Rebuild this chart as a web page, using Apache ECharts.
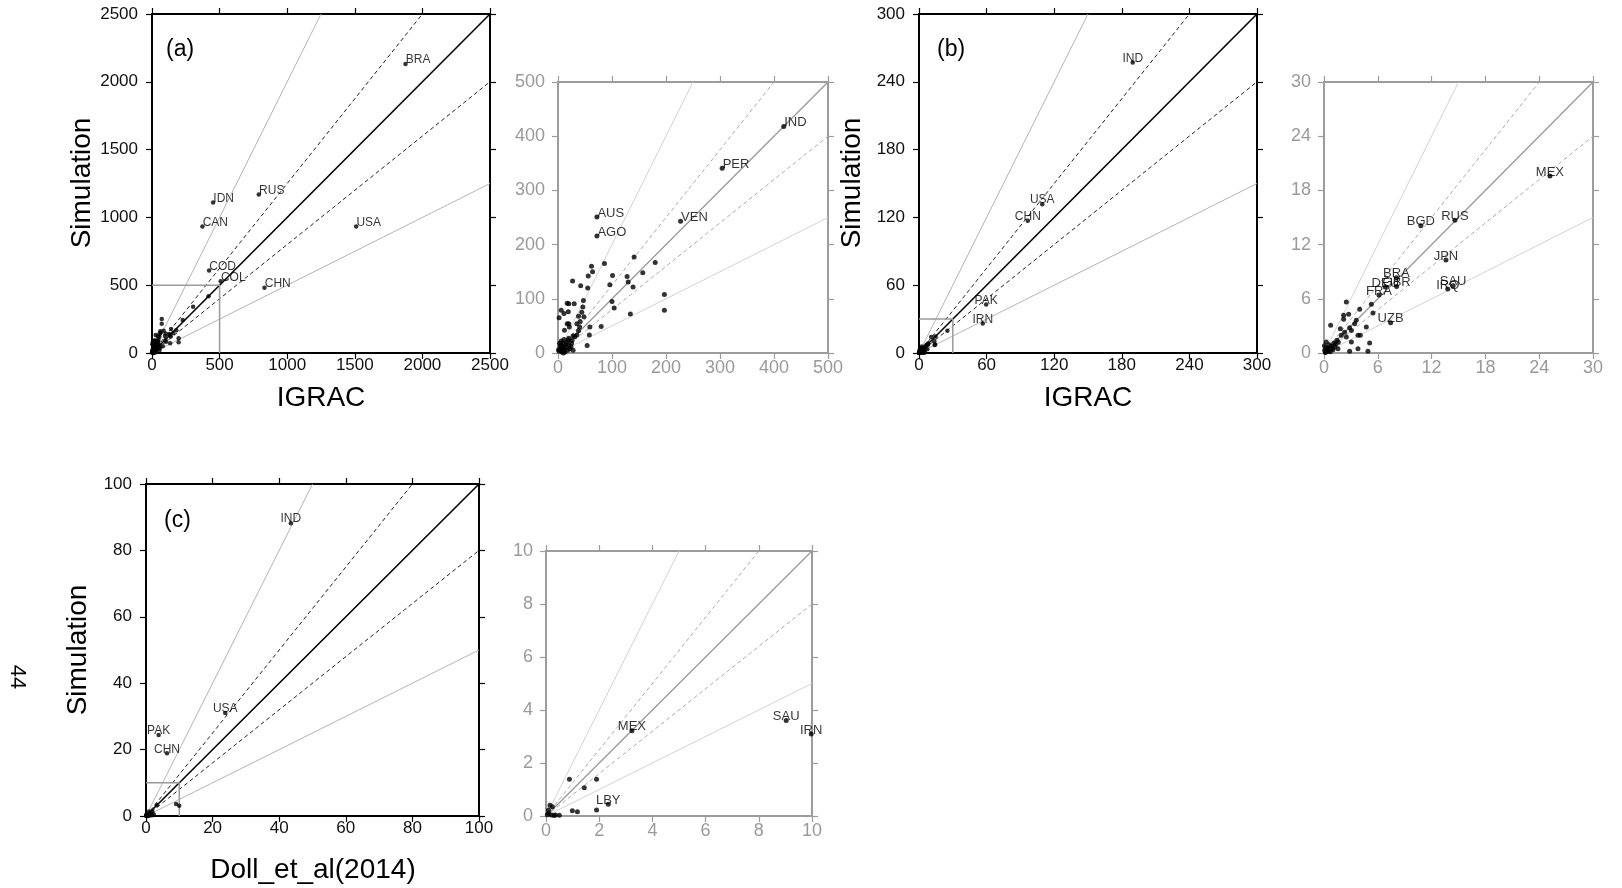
<!DOCTYPE html>
<html><head><meta charset="utf-8">
<script src="https://cdn.jsdelivr.net/npm/echarts@6/dist/echarts.min.js"></script>
<style>html,body{margin:0;padding:0;background:#fff}#c{width:1622px;height:888px}</style>
</head><body><div id="c"></div>
<script>
const FONT = '"Liberation Sans", Arial, Helvetica, sans-serif';
const refSlopes = [2, 1.25, 1, 0.8, 0.5];

// ---------- Panel (a): IGRAC vs Simulation ----------
const aMainLabeled = [
  ['BRA',1875,2131],['RUS',790,1169],['IDN',452,1110],['CAN',373,933],
  ['USA',1510,933],['COD',422,608],['COL',508,529],['CHN',832,482]
];
const aInsetLabeled = [
  ['IND',418,418],['PER',304,341],['VEN',227,243],['AUS',72,251],['AGO',72,216]
];
const aOther = [
  [141,177],[180,167],[86,165],[62,160],[64,150],[157,148],[56,142],[101,143],[128,141],
  [42,124],[55,120],[96,126],[130,131],[139,122],[27,133],[197,108],[100,95],[104,83],
  [197,79],[134,72],[80,49],[59,48],[58,33],[54,14],[47,97],[46,85],[44,75],[38,68],
  [48,67],[41,58],[35,54],[40,48],[17,92],[20,91],[30,91],[6,79],[11,73],[19,76],
  [20,54],[21,48],[17,54],[12,42],[2,65],[28,32],[31,30],[38,41],[35,33],[26,23],[20,27],
  [2,3],[5,8],[8,4],[10,12],[12,6],[15,15],[3,18],[6,22],[9,19],[14,10],[18,5],[20,14],
  [4,12],[7,2],[11,25],[16,20],[22,8],[25,18],[1,6],[13,2],[19,24],[24,12],[28,5],[6,15],[10,0]
];

// ---------- Panel (b) ----------
const bMainLabeled = [
  ['IND',189.7,257],['USA',109.4,131.7],['CHN',96.6,117],['PAK',59.6,43],['IRN',56.6,26]
];
const bInsetLabeled = [
  ['MEX',25.2,19.6],['RUS',14.6,14.7],['BGD',10.8,14.1],['JPN',13.6,10.3],
  ['SAU',14.4,7.45],['IRQ',13.8,7.08],['BRA',8.07,8.34],['GBR',8.1,7.35],
  ['DEU',6.84,7.3],['FRA',6.13,6.42],['UZB',7.43,3.36]
];
const bOther = [
  [2.49,5.65],[5.28,5.39],[3.98,4.83],[5.46,4.43],[2.19,4.17],[2.19,3.73],[2.75,4.28],
  [3.6,3.62],[3.42,3.25],[4.72,2.88],[2.86,2.8],[3.05,2.5],[0.74,3.06],[1.82,2.69],
  [2.3,2.3],[1.93,1.96],[2.49,1.77],[3.79,1.96],[4.05,1.96],[5.09,1.1],[1.45,1.4],
  [1.3,0.96],[3.05,1.22],[3.79,0.48],[4.9,0.2],[2.86,0.2],[0.26,1.22],[0.82,0.74],
  [0.45,0.48],[0.07,0.3],[1.0,0.37],[1.56,0.48],[0.2,0.1],[0.5,0.2],[0.3,0.6],[0.6,0.9],
  [0.9,0.5],[1.1,1.1],[0.15,0.05],[0.35,0.35],[0.7,0.15],[1.2,0.7],[0.05,0.8],[1.6,1.2]
];

// ---------- Panel (c): Doll_et_al(2014) ----------
const cMainLabeled = [
  ['IND',43.5,88.2],['USA',23.8,31],['PAK',3.8,24.4],['CHN',6.3,18.9]
];
const cInsetLabeled = [
  ['MEX',3.23,3.22],['SAU',9.03,3.6],['IRN',9.97,3.09],['LBY',2.34,0.44]
];
const cOther = [
  [0.88,1.39],[1.9,1.39],[1.44,1.07],[0.99,0.2],[1.18,0.16],[1.9,0.23],[0.15,0.41],
  [0.24,0.35],[0.09,0.23],[0.1,0.1],[0.05,0.05],[0.2,0.04],[0.35,0.04],[0.5,0.03],[0.3,0.02]
];

// axis ranges / tick steps
const aRange = [2500, 500], aInRange = [500, 100];
const bRange = [300, 60],   bInRange = [30, 6];
const cRange = [100, 20],   cInRange = [10, 2];

const panels = [
  {g:[152,14,338,339], r:aRange, inset:false, lab:aMainLabeled, plain:[aInsetLabeled, aOther], align:'left', box:aInRange[0], tag:'(a)', tagPos:[166,50]},
  {g:[558,82,270,271], r:aInRange, inset:true, lab:aInsetLabeled, plain:[aMainLabeled, aOther], align:'left'},
  {g:[919,14,338,339], r:bRange, inset:false, lab:bMainLabeled, plain:[bInsetLabeled, bOther], align:'center', box:bInRange[0], tag:'(b)', tagPos:[937,50]},
  {g:[1324,82,269,271], r:bInRange, inset:true, lab:bInsetLabeled, plain:[bMainLabeled, bOther], align:'center'},
  {g:[146,484,333,332], r:cRange, inset:false, lab:cMainLabeled, plain:[cInsetLabeled, cOther], align:'center', box:cInRange[0], tag:'(c)', tagPos:[164,521]},
  {g:[546,551,266,265], r:cInRange, inset:true, lab:cInsetLabeled, plain:[cMainLabeled, cOther], align:'center'}
];

const grid = [], xAxis = [], yAxis = [], series = [], graphic = [];

function refStyle(s, inset) {
  if (s === 1) return {color: inset ? '#999' : '#000', width: inset ? 1.3 : 1.6, type:'solid'};
  if (s === 2 || s === 0.5) return {color: inset ? '#d2d2d2' : '#b4b4b4', width: 1, type:'solid'};
  return {color: inset ? '#aaa' : '#222', width: 1, type:[4,3]};
}
const plainNum = v => String(v);

panels.forEach((p, i) => {
  grid.push({left:p.g[0], top:p.g[1], width:p.g[2], height:p.g[3]});
  const axCol = p.inset ? '#9c9c9c' : '#000';
  const lblCol = p.inset ? '#9a9a9a' : '#111';
  const fs = p.inset ? 18 : 17;
  const max = p.r[0], step = p.r[1];
  const base = () => ({gridIndex:i, type:'value', min:0, max:max, interval:step,
    splitLine:{show:false},
    axisLine:{show:true, onZero:false, lineStyle:{color:axCol, width:2}},
    axisTick:{show:true, inside:false, length:6, lineStyle:{color:axCol, width:1.2}}});
  xAxis.push(Object.assign(base(), {position:'bottom',
    axisLabel:{show:true, color:lblCol, fontSize:fs, fontFamily:FONT, margin:p.inset?6:4, formatter:plainNum}}));
  xAxis.push(Object.assign(base(), {position:'top', axisLabel:{show:false}}));
  yAxis.push(Object.assign(base(), {position:'left',
    axisLabel:{show:true, color:lblCol, fontSize:fs, fontFamily:FONT, margin:p.inset?13:14, formatter:plainNum}}));
  yAxis.push(Object.assign(base(), {position:'right', axisLabel:{show:false}}));
  const xi = 2*i, yi = 2*i;

  refSlopes.forEach(s => {
    const end = s >= 1 ? [max/s, max] : [max, max*s];
    series.push({type:'line', xAxisIndex:xi, yAxisIndex:yi, data:[[0,0], end],
      symbol:'none', lineStyle:refStyle(s, p.inset), silent:true, animation:false, z:1});
  });

  if (p.box) {
    series.push({type:'line', xAxisIndex:xi, yAxisIndex:yi,
      data:[[0,p.box],[p.box,p.box],[p.box,0]], symbol:'none',
      lineStyle:{color:'#9a9a9a', width:1.5}, silent:true, animation:false, z:1});
  }

  const symSize = p.inset ? 5 : 4.5;
  const plainPts = [];
  p.plain.forEach(arr => arr.forEach(d => plainPts.push(d.length === 3 ? [d[1], d[2]] : d)));
  series.push({type:'scatter', xAxisIndex:xi, yAxisIndex:yi, data:plainPts,
    symbolSize:symSize, itemStyle:{color:'#000'}, silent:true, animation:false, z:3});

  const lbl = p.align === 'left'
    ? {show:true, formatter:'{b}', position:'right', distance:0, offset:[-2,-4]}
    : {show:true, formatter:'{b}', position:'inside', offset:[0,-4]};
  Object.assign(lbl, {fontSize:p.inset ? 13 : 12, color:'#000', fontFamily:FONT});
  series.push({type:'scatter', xAxisIndex:xi, yAxisIndex:yi,
    data:p.lab.map(d => ({name:d[0], value:[d[1], d[2]]})),
    symbolSize:symSize, itemStyle:{color:'#000'}, label:lbl, silent:true, animation:false, z:4});

  if (p.tag) {
    graphic.push({type:'text', x:p.tagPos[0], y:p.tagPos[1],
      style:{text:p.tag, x:0, y:0, font:'23px ' + FONT, fill:'#000', align:'left', verticalAlign:'middle'}});
  }
});

function vText(txt, x, y, size, rot) {
  graphic.push({type:'text', x:x, y:y, rotation:rot,
    style:{text:txt, x:0, y:0, font:size + 'px ' + FONT, fill:'#000', align:'center', verticalAlign:'middle'}});
}
vText('Simulation', 82, 183, 28, Math.PI/2);
vText('IGRAC', 321, 398, 28, 0);
vText('Simulation', 852, 183, 28, Math.PI/2);
vText('IGRAC', 1088, 398, 28, 0);
vText('Simulation', 78, 650, 28, Math.PI/2);
vText('Doll_et_al(2014)', 313, 870, 28, 0);
vText('44', 17, 677, 22, -Math.PI/2);

const chart = echarts.init(document.getElementById('c'), null, {renderer:'canvas'});
chart.setOption({animation:false, backgroundColor:'#fff', grid, xAxis, yAxis, series, graphic});
</script>
</body></html>
